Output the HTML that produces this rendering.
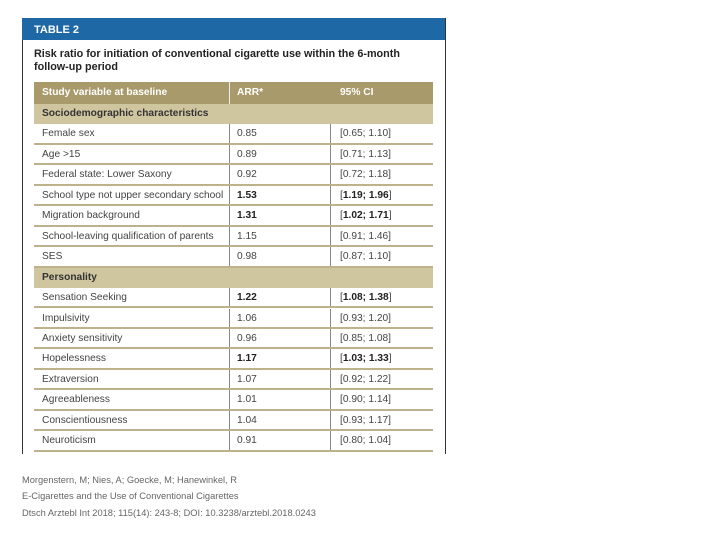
<!DOCTYPE html>
<html><head><meta charset="utf-8"><style>
body{margin:0;width:720px;height:540px;background:#fff;position:relative;font-family:"Liberation Sans",sans-serif;overflow:hidden}
.abs{position:absolute}
#box{left:22px;top:18px;width:422px;height:436px;border-left:1px solid #333;border-right:1px solid #333;}
#band{left:22px;top:18px;width:423px;height:22px;background:#1f68a6;color:#fff;font-weight:bold;font-size:11px;line-height:24px;padding-left:12px;box-sizing:border-box}
#title{left:34px;top:48px;width:380px;font-weight:bold;font-size:10.8px;line-height:13px;color:#222}
.row{position:absolute;left:34px;width:399px;font-size:10.2px;color:#444;border-bottom:2px solid #bdb28a;box-sizing:border-box}
.row span{position:absolute;top:0}
.c1{left:8px}.c2{left:203px}.c3{left:306px}
.d1,.d2{position:absolute;top:0;bottom:0;width:1px;background:#888}
.d1{left:195px}.d2{left:296px}
.hdr{background:#a99a6b;color:#fff;font-weight:bold;border-bottom:none}
.sec{background:#cfc59f;color:#333;font-weight:bold;border-bottom:none}
b{color:#222}
#cite{left:22px;top:472px;font-size:9.3px;color:#666;line-height:16.3px}
</style></head><body>
<div class="abs" id="box"></div>
<div class="abs" id="band">TABLE 2</div>
<div class="abs" id="title">Risk ratio for initiation of conventional cigarette use within the 6-month follow-up period</div>
<div id="rows"></div>
<div class="abs" id="cite">Morgenstern, M; Nies, A; Goecke, M; Hanewinkel, R<br>E-Cigarettes and the Use of Conventional Cigarettes<br>Dtsch Arztebl Int 2018; 115(14): 243-8; DOI: 10.3238/arztebl.2018.0243</div>
<script>
const labels=["Female sex","Age >15","Federal state: Lower Saxony","School type not upper secondary school","Migration background","School-leaving qualification of parents","SES","Sensation Seeking","Impulsivity","Anxiety sensitivity","Hopelessness","Extraversion","Agreeableness","Conscientiousness","Neuroticism"];
const arr=["0.85","0.89","0.92","1.53","1.31","1.15","0.98","1.22","1.06","0.96","1.17","1.07","1.01","1.04","0.91"];
const ci=["[0.65; 1.10]","[0.71; 1.13]","[0.72; 1.18]","[1.19; 1.96]","[1.02; 1.71]","[0.91; 1.46]","[0.87; 1.10]","[1.08; 1.38]","[0.93; 1.20]","[0.85; 1.08]","[1.03; 1.33]","[0.92; 1.22]","[0.90; 1.14]","[0.93; 1.17]","[0.80; 1.04]"];
const bold=[3,4,7,10];
const root=document.getElementById('rows');
const step=20.45;let y=82;
function mk(cls,h){const d=document.createElement('div');d.className='row '+cls;d.style.top=y+'px';d.style.height=h+'px';d.style.lineHeight=h+'px';root.appendChild(d);y+=h;return d;}
let h=mk('hdr',22);


h.innerHTML='<span class="c1">Study variable at baseline</span><span class="c2">ARR*</span><span class="c3">95% CI</span><div class="d1" style="background:#eee"></div>';
function sec(t,n){const s=mk('sec',step);s.innerHTML='<span class="c1">'+t+'</span>';}
sec('Sociodemographic characteristics','section-sociodemographic');
labels.forEach((l,i)=>{
 if(i===7)sec('Personality','section-personality');
 const r=mk('',step);
 
 
 const b=bold.includes(i);
 const c=b?ci[i].replace(/([\d.]+); ([\d.]+)/,'<b>$1; $2</b>'):ci[i];
 r.innerHTML='<span class="c1">'+l+'</span><span class="c2">'+(b?'<b>'+arr[i]+'</b>':arr[i])+'</span><span class="c3">'+c+'</span><div class="d1"></div><div class="d2"></div>';
});
</script>
</body></html>
